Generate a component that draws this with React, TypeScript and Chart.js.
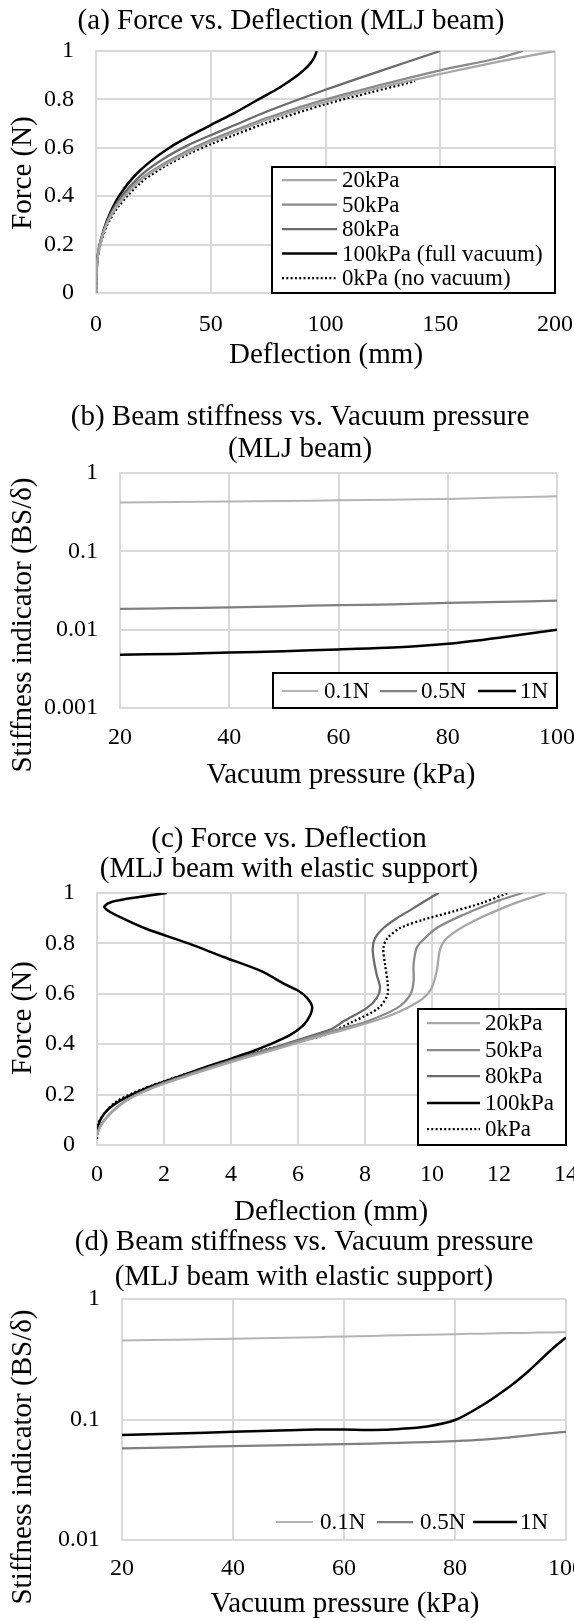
import { useEffect, useRef } from "react";
import { Chart, registerables } from "chart.js";

Chart.register(...registerables);

const FONT = '"Liberation Serif", "Times New Roman", Times, serif';
const CANVAS_W = 640;
const CANVAS_H = 1621;
const EDGE = 2;

// ---------------- tick values / labels ----------------
const forceTickValues = [0, 0.2, 0.4, 0.6, 0.8, 1];
const forceTickLabels = ["0", "0.2", "0.4", "0.6", "0.8", "1"];
const deflATickValues = [0, 50, 100, 150, 200];
const deflATickLabels = ["0", "50", "100", "150", "200"];
const deflCTickValues = [0, 2, 4, 6, 8, 10, 12, 14];
const deflCTickLabels = ["0", "2", "4", "6", "8", "10", "12", "14"];
const pressureTickValues = [20, 40, 60, 80, 100];
const pressureTickLabels = ["20", "40", "60", "80", "100"];
const stiffBTickValues = [0.001, 0.01, 0.1, 1];
const stiffBTickLabels = ["0.001", "0.01", "0.1", "1"];
const stiffDTickValues = [0.01, 0.1, 1];
const stiffDTickLabels = ["0.01", "0.1", "1"];

// ---------------- series names ----------------
const seriesNamesA = ["20kPa", "50kPa", "80kPa", "100kPa (full vacuum)", "0kPa (no vacuum)"];
const seriesNamesC = ["20kPa", "50kPa", "80kPa", "100kPa", "0kPa"];
const forceLevelNames = ["0.1N", "0.5N", "1N"];

// ---------------- (a) deflection (mm), force (N) ----------------
const a20kPa = [[0, 0], [0.3, 0.1], [1, 0.165], [2, 0.21], [5, 0.29], [10, 0.37], [20, 0.47], [30, 0.53], [40, 0.58], [50, 0.625], [60, 0.663], [75, 0.717], [100, 0.79], [125, 0.852], [150, 0.905], [175, 0.955], [200, 1]];
const a50kPa = [[0, 0], [0.3, 0.1], [1, 0.168], [2, 0.213], [5, 0.295], [10, 0.375], [20, 0.475], [30, 0.537], [40, 0.588], [50, 0.632], [60, 0.67], [75, 0.725], [100, 0.8], [125, 0.862], [150, 0.92], [175, 0.97], [186, 1]];
const a80kPa = [[0, 0], [0.3, 0.1], [1, 0.17], [2, 0.215], [5, 0.3], [10, 0.385], [20, 0.49], [30, 0.558], [40, 0.61], [50, 0.652], [60, 0.692], [75, 0.752], [100, 0.84], [125, 0.921], [150, 1]];
const a100kPa = [[0, 0], [0.3, 0.1], [1, 0.172], [2, 0.215], [4.8, 0.3], [10, 0.4], [18.5, 0.5], [32, 0.6], [50, 0.694], [60, 0.742], [68, 0.785], [74, 0.817], [79.5, 0.846], [84, 0.874], [88, 0.901], [91, 0.925], [93.5, 0.95], [95.2, 0.975], [96.2, 1]];
const a0kPa = [[0, 0], [0.3, 0.09], [1, 0.16], [2, 0.205], [5, 0.283], [10, 0.36], [20, 0.46], [30, 0.523], [40, 0.573], [50, 0.615], [60, 0.652], [75, 0.705], [100, 0.78], [120, 0.83], [139, 0.875]];

// ---------------- (b) vacuum pressure (kPa), stiffness ----------------
const pressureB = [20, 30, 40, 50, 60, 70, 80, 90, 100];
const b01N = [0.42, 0.425, 0.432, 0.44, 0.448, 0.457, 0.467, 0.485, 0.505];
const b05N = [0.0184, 0.0188, 0.0193, 0.0199, 0.0205, 0.0211, 0.0219, 0.0226, 0.0235];
const b1N = [0.0048, 0.0049, 0.0051, 0.0053, 0.0056, 0.0059, 0.0066, 0.008, 0.01];

// ---------------- (c) deflection (mm), force (N) ----------------
const c20kPa = [[0, 0.04], [0.1, 0.075], [0.3, 0.11], [0.6, 0.148], [1.0, 0.185], [1.7, 0.228], [2.5, 0.265], [3.3, 0.3], [4.1, 0.333], [4.95, 0.365], [5.75, 0.396], [6.46, 0.424], [7.55, 0.464], [8.55, 0.504], [9.24, 0.543], [9.74, 0.583], [9.99, 0.623], [10.14, 0.689], [10.24, 0.775], [10.44, 0.821], [11.23, 0.888], [12.48, 0.96], [13.4, 1]];
const c50kPa = [[0, 0.04], [0.1, 0.075], [0.3, 0.11], [0.6, 0.15], [1.0, 0.187], [1.7, 0.23], [2.5, 0.268], [3.3, 0.303], [4.1, 0.337], [4.95, 0.37], [5.75, 0.402], [6.5, 0.432], [7.3, 0.462], [8.05, 0.49], [8.95, 0.543], [9.35, 0.596], [9.45, 0.649], [9.45, 0.715], [9.54, 0.781], [9.69, 0.808], [10.14, 0.861], [10.94, 0.914], [11.93, 0.967], [12.7, 1]];
const c80kPa = [[0, 0.04], [0.1, 0.076], [0.3, 0.112], [0.6, 0.15], [1.0, 0.188], [1.7, 0.232], [2.5, 0.27], [3.3, 0.306], [4.1, 0.34], [4.95, 0.374], [5.75, 0.406], [6.5, 0.438], [7.0, 0.46], [7.35, 0.49], [8.05, 0.543], [8.35, 0.583], [8.45, 0.623], [8.35, 0.676], [8.27, 0.729], [8.23, 0.781], [8.3, 0.821], [8.55, 0.861], [8.95, 0.9], [9.45, 0.94], [9.94, 0.98], [10.2, 1]];
const c100kPa = [[0, 0.05], [0.1, 0.1], [0.35, 0.144], [0.8, 0.184], [1.44, 0.224], [2.29, 0.264], [3.13, 0.304], [4.03, 0.344], [4.63, 0.371], [5.12, 0.397], [5.77, 0.437], [6.17, 0.477], [6.37, 0.517], [6.42, 0.55], [6.27, 0.584], [6.02, 0.611], [5.62, 0.637], [4.92, 0.689], [3.8, 0.745], [2.73, 0.8], [1.43, 0.86], [0.54, 0.914], [0.28, 0.935], [0.22, 0.946], [0.45, 0.965], [1.3, 0.985], [2.08, 1]];
const c0kPa = [[0, 0.024], [0.05, 0.09], [0.25, 0.13], [0.55, 0.17], [1.14, 0.21], [2.24, 0.264], [3.53, 0.317], [4.83, 0.371], [5.8, 0.405], [6.8, 0.437], [7.65, 0.49], [8.4, 0.543], [8.67, 0.596], [8.67, 0.649], [8.6, 0.715], [8.55, 0.781], [8.67, 0.821], [9.05, 0.861], [9.74, 0.894], [10.64, 0.927], [11.48, 0.96], [12.27, 1]];

// ---------------- (d) vacuum pressure (kPa), stiffness ----------------
const pressureD = [20, 30, 40, 50, 55, 60, 65, 70, 75, 80, 85, 90, 92.5, 95, 97.5, 100];
const d01N = [0.453, 0.46, 0.467, 0.477, 0.482, 0.488, 0.494, 0.5, 0.505, 0.511, 0.516, 0.521, 0.523, 0.526, 0.528, 0.531];
const d05N = [0.0575, 0.0588, 0.0602, 0.0613, 0.0619, 0.0625, 0.0632, 0.064, 0.065, 0.0662, 0.068, 0.0712, 0.0732, 0.0752, 0.0772, 0.079];
const d1N = [0.0743, 0.0765, 0.079, 0.0815, 0.0825, 0.0825, 0.082, 0.0835, 0.0875, 0.099, 0.132, 0.19, 0.235, 0.3, 0.385, 0.48];

// ---------------- styles ----------------
const GRID = "#d9d9d9";
const pressureStyles = [
  { color: "#a6a6a6", width: 2.25, dash: [] as number[] },
  { color: "#8a8a8a", width: 2.25, dash: [] as number[] },
  { color: "#6b6b6b", width: 2.25, dash: [] as number[] },
  { color: "#000000", width: 2.5, dash: [] as number[] },
  { color: "#000000", width: 2.25, dash: [2, 2.3] },
];
const levelStyles = [
  { color: "#b4b4b4", width: 2, dash: [] as number[] },
  { color: "#808080", width: 2.25, dash: [] as number[] },
  { color: "#000000", width: 2.5, dash: [] as number[] },
];

function pairsToPoints(p: number[][]) {
  return p.map(([x, y]) => ({ x, y }));
}
function xyToPoints(xs: number[], ys: number[]) {
  return xs.map((x, i) => ({ x, y: ys[i] }));
}
function makeDatasets(names: string[], series: { x: number; y: number }[][], styles: any[]) {
  return series.map((data, i) => ({
    label: names[i],
    data,
    showLine: true,
    borderColor: styles[i].color,
    backgroundColor: styles[i].color,
    borderWidth: styles[i].width,
    borderDash: styles[i].dash,
    borderCapStyle: "butt",
    pointRadius: 0,
    pointHoverRadius: 0,
    tension: 0.3,
    fill: false,
  }));
}

type LegendItem = { ds: number; x1: number; x2: number; tx: number; y: number };
type AxisSpec = { type: string; min: number; max: number; values: number[]; labels: string[]; pad: number };
type Spec = {
  area: { l: number; t: number; r: number; b: number };
  x: AxisSpec;
  y: AxisSpec;
  datasets: any[];
  titles: { text: string; x: number; y: number }[];
  xTitle: { text: string; x: number; y: number };
  yTitle: { text: string; x: number; y: number };
  legendBox: { x: number; y: number; w: number; h: number } | null;
  legendItems: LegendItem[];
};

const specs: Spec[] = [
  {
    area: { l: 96, t: 51, r: 555, b: 293 },
    x: { type: "linear", min: 0, max: 200, values: deflATickValues, labels: deflATickLabels, pad: 17 },
    y: { type: "linear", min: 0, max: 1, values: forceTickValues, labels: forceTickLabels, pad: 22 },
    datasets: makeDatasets(
      seriesNamesA,
      [a20kPa, a50kPa, a80kPa, a100kPa, a0kPa].map(pairsToPoints),
      pressureStyles
    ),
    titles: [{ text: "(a) Force vs. Deflection (MLJ beam)", x: 291, y: 29 }],
    xTitle: { text: "Deflection (mm)", x: 326, y: 363 },
    yTitle: { text: "Force (N)", x: 31, y: 173 },
    legendBox: { x: 272, y: 167, w: 283, h: 126 },
    legendItems: [180, 204.5, 229, 253.5, 278].map((y, i) => ({ ds: i, x1: 282, x2: 337, tx: 342, y })),
  },
  {
    area: { l: 120, t: 473, r: 557, b: 708 },
    x: { type: "linear", min: 20, max: 100, values: pressureTickValues, labels: pressureTickLabels, pad: 15 },
    y: { type: "logarithmic", min: 0.001, max: 1, values: stiffBTickValues, labels: stiffBTickLabels, pad: 22 },
    datasets: makeDatasets(
      forceLevelNames,
      [b01N, b05N, b1N].map((ys) => xyToPoints(pressureB, ys)),
      levelStyles
    ),
    titles: [
      { text: "(b) Beam stiffness vs. Vacuum pressure", x: 300, y: 425 },
      { text: "(MLJ beam)", x: 300, y: 457 },
    ],
    xTitle: { text: "Vacuum pressure (kPa)", x: 341, y: 783 },
    yTitle: { text: "Stiffness indicator (BS/δ)", x: 31, y: 625 },
    legendBox: { x: 273, y: 673, w: 284, h: 35 },
    legendItems: [
      { ds: 0, x1: 282, x2: 318, tx: 324, y: 691 },
      { ds: 1, x1: 380, x2: 417, tx: 421, y: 691 },
      { ds: 2, x1: 478, x2: 516, tx: 520, y: 691 },
    ],
  },
  {
    area: { l: 97, t: 893, r: 566, b: 1145 },
    x: { type: "linear", min: 0, max: 14, values: deflCTickValues, labels: deflCTickLabels, pad: 15 },
    y: { type: "linear", min: 0, max: 1, values: forceTickValues, labels: forceTickLabels, pad: 22 },
    datasets: makeDatasets(
      seriesNamesC,
      [c20kPa, c50kPa, c80kPa, c100kPa, c0kPa].map(pairsToPoints),
      pressureStyles
    ),
    titles: [
      { text: "(c) Force vs. Deflection", x: 289, y: 847 },
      { text: "(MLJ beam with elastic support)", x: 289, y: 877 },
    ],
    xTitle: { text: "Deflection (mm)", x: 331, y: 1220 },
    yTitle: { text: "Force (N)", x: 31, y: 1018 },
    legendBox: { x: 418, y: 1009, w: 148, h: 136 },
    legendItems: [1023, 1050, 1076, 1103, 1129].map((y, i) => ({ ds: i, x1: 427, x2: 480, tx: 485, y })),
  },
  {
    area: { l: 122, t: 1299, r: 566, b: 1540 },
    x: { type: "linear", min: 20, max: 100, values: pressureTickValues, labels: pressureTickLabels, pad: 14 },
    y: { type: "logarithmic", min: 0.01, max: 1, values: stiffDTickValues, labels: stiffDTickLabels, pad: 22 },
    datasets: makeDatasets(
      forceLevelNames,
      [d01N, d05N, d1N].map((ys) => xyToPoints(pressureD, ys)),
      levelStyles
    ),
    titles: [
      { text: "(d) Beam stiffness vs. Vacuum pressure", x: 304, y: 1250 },
      { text: "(MLJ beam with elastic support)", x: 304, y: 1285 },
    ],
    xTitle: { text: "Vacuum pressure (kPa)", x: 345, y: 1612 },
    yTitle: { text: "Stiffness indicator (BS/δ)", x: 31, y: 1457 },
    legendBox: null,
    legendItems: [
      { ds: 0, x1: 276, x2: 313, tx: 320, y: 1522 },
      { ds: 1, x1: 377, x2: 413, tx: 420, y: 1522 },
      { ds: 2, x1: 473, x2: 517, tx: 520, y: 1522 },
    ],
  },
];

function axisConfig(a: AxisSpec, isX: boolean, area: Spec["area"]) {
  return {
    type: a.type,
    position: isX ? "bottom" : "left",
    min: a.min,
    max: a.max,
    afterFit: (s: any) => {
      // fixed box sizes so the plot area lands exactly where the reference has it
      if (isX) s.height = CANVAS_H - area.b - EDGE;
      else s.width = area.l - EDGE;
    },
    afterBuildTicks: (s: any) => {
      s.ticks = a.values.map((v) => ({ value: v }));
    },
    ticks: {
      callback: (_v: any, i: number) => a.labels[i],
      font: { family: FONT, size: 24 },
      color: "#000",
      padding: a.pad,
      autoSkip: false,
      maxRotation: 0,
      minRotation: 0,
    },
    grid: { color: GRID, lineWidth: 2, drawTicks: false },
    border: { color: GRID, width: 2 },
  };
}

function annotationPlugin(spec: Spec) {
  return {
    id: "annotations",
    afterDraw(chart: any) {
      const ctx: CanvasRenderingContext2D = chart.ctx;
      ctx.save();
      ctx.fillStyle = "#000";
      ctx.font = `29px ${FONT}`;
      ctx.textAlign = "center";
      ctx.textBaseline = "alphabetic";
      spec.titles.forEach((t) => ctx.fillText(t.text, t.x, t.y));
      ctx.fillText(spec.xTitle.text, spec.xTitle.x, spec.xTitle.y);
      ctx.save();
      ctx.translate(spec.yTitle.x, spec.yTitle.y);
      ctx.rotate(-Math.PI / 2);
      ctx.fillText(spec.yTitle.text, 0, 0);
      ctx.restore();

      if (spec.legendBox) {
        const b = spec.legendBox;
        ctx.fillStyle = "#fff";
        ctx.fillRect(b.x, b.y, b.w, b.h);
        ctx.strokeStyle = "#000";
        ctx.lineWidth = 2;
        ctx.strokeRect(b.x, b.y, b.w, b.h);
      }
      ctx.font = `23px ${FONT}`;
      ctx.textAlign = "left";
      ctx.textBaseline = "middle";
      spec.legendItems.forEach((it) => {
        const ds = chart.data.datasets[it.ds];
        ctx.strokeStyle = ds.borderColor;
        ctx.lineWidth = ds.borderWidth;
        ctx.lineCap = "butt";
        ctx.setLineDash(ds.borderDash || []);
        ctx.beginPath();
        ctx.moveTo(it.x1, it.y);
        ctx.lineTo(it.x2, it.y);
        ctx.stroke();
        ctx.setLineDash([]);
        ctx.fillStyle = "#000";
        ctx.fillText(ds.label, it.tx, it.y + 1);
      });
      ctx.restore();
    },
  };
}

function ChartCanvas({ spec }: { spec: Spec }) {
  const ref = useRef<HTMLCanvasElement | null>(null);
  useEffect(() => {
    if (!ref.current) return;
    const a = spec.area;
    const chart = new Chart(ref.current, {
      type: "scatter",
      data: { datasets: spec.datasets },
      options: {
        responsive: false,
        animation: false,
        devicePixelRatio: 1,
        events: [],
        layout: {
          padding: { left: EDGE, top: a.t, right: CANVAS_W - a.r, bottom: EDGE },
        },
        plugins: {
          legend: { display: false },
          title: { display: false },
          tooltip: { enabled: false },
        },
        scales: {
          x: axisConfig(spec.x, true, a),
          y: axisConfig(spec.y, false, a),
        },
      } as any,
      plugins: [annotationPlugin(spec)],
    } as any);
    return () => chart.destroy();
  }, [spec]);
  return (
    <canvas
      ref={ref}
      width={CANVAS_W}
      height={CANVAS_H}
      style={{ position: "absolute", left: 0, top: 0, width: `${CANVAS_W}px`, height: `${CANVAS_H}px` }}
    />
  );
}

export default function App() {
  return (
    <div
      style={{
        position: "absolute",
        left: 0,
        top: 0,
        width: 574,
        height: 1621,
        overflow: "hidden",
        background: "#fff",
      }}
    >
      {specs.map((s, i) => (
        <ChartCanvas key={i} spec={s} />
      ))}
    </div>
  );
}
